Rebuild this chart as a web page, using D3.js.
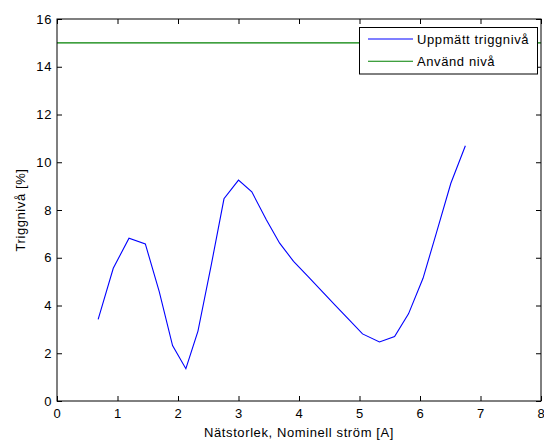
<!DOCTYPE html>
<html>
<head>
<meta charset="utf-8">
<script src="https://cdn.jsdelivr.net/npm/d3@7"></script>
<style>
  html, body { margin: 0; padding: 0; background: #fff; }
  svg { display: block; font-family: "Liberation Sans", Arial, sans-serif; }
  text { letter-spacing: 0.6px; }
</style>
</head>
<body>
<svg id="chart" width="544" height="441"></svg>
<script>
// Measured trigger level per net size (nominal current)
const currentA = [0.68, 0.93, 1.19, 1.46, 1.69, 1.91, 2.13, 2.33, 2.55, 2.76, 3.00, 3.22, 3.46, 3.68, 3.91,
                  4.14, 4.37, 4.60, 4.83, 5.05, 5.33, 5.58, 5.81, 6.05, 6.27, 6.51, 6.75];
const measuredLevel = [3.42, 5.56, 6.82, 6.58, 4.58, 2.32, 1.35, 2.93, 5.70, 8.47, 9.25, 8.76, 7.59, 6.61, 5.85,
                       5.24, 4.62, 4.01, 3.40, 2.81, 2.47, 2.70, 3.65, 5.14, 7.03, 9.12, 10.69];
// Level actually used
const usedX = [0, 8];
const usedLevel = [15, 15];

const xTicks = [0, 1, 2, 3, 4, 5, 6, 7, 8];
const yTicks = [0, 2, 4, 6, 8, 10, 12, 14, 16];
const legendLabels = ["Uppmätt triggnivå", "Använd nivå"];
const seriesColors = ["#0000ff", "#008000"];

const svg = d3.select("#chart");
const plotLeft = 57, plotRight = 541, plotTop = 19, plotBottom = 401;

const x = d3.scaleLinear().domain([0, 8]).range([plotLeft, plotRight]);
const y = d3.scaleLinear().domain([0, 16]).range([plotBottom, plotTop]);

const tickLen = 5;
const fontSize = 13;

// Data lines
const line = d3.line().x(d => x(d[0])).y(d => y(d[1]));
svg.append("path")
  .datum(currentA.map((v, i) => [v, measuredLevel[i]]))
  .attr("d", line).attr("fill", "none")
  .attr("stroke", seriesColors[0]).attr("stroke-width", 1.1);
svg.append("path")
  .datum(usedX.map((v, i) => [v, usedLevel[i]]))
  .attr("d", line).attr("fill", "none")
  .attr("stroke", seriesColors[1]).attr("stroke-width", 1.1);

// Axes with inward ticks on all four sides
const axisStyle = g => {
  g.select(".domain").remove();
  g.selectAll("line").attr("stroke", "#000");
  g.selectAll("text").attr("font-size", fontSize).attr("fill", "#000")
    .attr("font-family", "Liberation Sans, Arial, sans-serif");
};
svg.append("g").attr("transform", `translate(0,${plotBottom})`)
  .call(d3.axisBottom(x).tickValues(xTicks).tickFormat(d3.format("d"))
        .tickSizeInner(-tickLen).tickSizeOuter(0).tickPadding(8))
  .call(axisStyle);
svg.append("g").attr("transform", `translate(0,${plotTop})`)
  .call(d3.axisTop(x).tickValues(xTicks).tickSizeInner(-tickLen).tickSizeOuter(0).tickFormat(""))
  .call(axisStyle);
svg.append("g").attr("transform", `translate(${plotLeft},0)`)
  .call(d3.axisLeft(y).tickValues(yTicks).tickFormat(d3.format("d"))
        .tickSizeInner(-tickLen).tickSizeOuter(0).tickPadding(5))
  .call(axisStyle);
svg.append("g").attr("transform", `translate(${plotRight},0)`)
  .call(d3.axisRight(y).tickValues(yTicks).tickSizeInner(-tickLen).tickSizeOuter(0).tickFormat(""))
  .call(axisStyle);

// Plot box
svg.append("rect")
  .attr("x", plotLeft).attr("y", plotTop)
  .attr("width", plotRight - plotLeft).attr("height", plotBottom - plotTop)
  .attr("fill", "none").attr("stroke", "#000").attr("stroke-width", 1);

// Axis titles
svg.append("text")
  .attr("x", (plotLeft + plotRight) / 2).attr("y", 437)
  .attr("text-anchor", "middle").attr("font-size", fontSize)
  .text("Nätstorlek, Nominell ström [A]");
svg.append("text")
  .attr("transform", `translate(25,${(plotTop + plotBottom) / 2}) rotate(-90)`)
  .attr("text-anchor", "middle").attr("font-size", fontSize)
  .text("Triggnivå [%]");

// Legend
const lg = svg.append("g");
lg.append("rect")
  .attr("x", 359.5).attr("y", 27.5).attr("width", 178).attr("height", 46.5)
  .attr("fill", "#fff").attr("stroke", "#000").attr("stroke-width", 1);
legendLabels.forEach((lab, i) => {
  const ly = 39 + i * 22.3;
  lg.append("line")
    .attr("x1", 368).attr("x2", 413).attr("y1", ly).attr("y2", ly)
    .attr("stroke", seriesColors[i]).attr("stroke-width", 1.1);
  lg.append("text")
    .attr("x", 417).attr("y", ly + 4.6)
    .attr("font-size", fontSize).text(lab);
});
</script>
</body>
</html>
